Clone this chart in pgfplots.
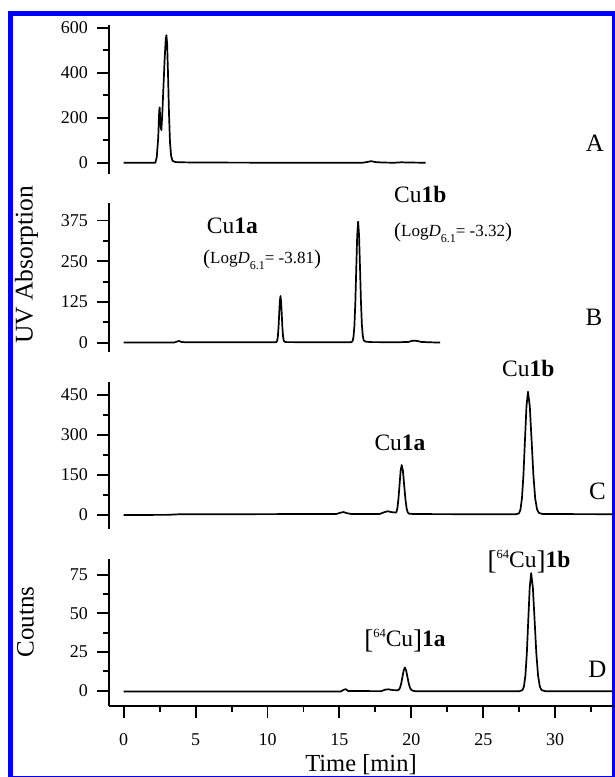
\documentclass[border=0pt]{standalone}
\usepackage{fontspec}
\setmainfont{Liberation Serif}
\usepackage{pgfplots}
\pgfplotsset{compat=1.18}

\newcommand{\ticksize}{\fontsize{18}{18}\selectfont}
\newcommand{\annot}{\fontsize{23.5}{23.5}\selectfont}
\newcommand{\logd}[1]{{\fontsize{17}{17}\selectfont\raisebox{-1pt}{\fontsize{21}{21}\selectfont(}Log\textit{D}\raisebox{-6pt}{\fontsize{12}{12}\selectfont 6.1}= #1\raisebox{-1pt}{\fontsize{21}{21}\selectfont)}}}
\newcommand{\cu}[1]{\raisebox{-2pt}{\fontsize{27}{27}\selectfont[}\raisebox{9pt}{\fontsize{12.5}{12.5}\selectfont 64}Cu\raisebox{-2pt}{\fontsize{27}{27}\selectfont]}\textbf{#1}}

\pgfplotsset{
  panel/.style={
    scale only axis, width=503.4pt,
    xmin=-1, xmax=34,
    axis y line*=left,
    y axis line style={line width=1.9pt, -},
    tick align=outside,
    major tick length=12pt, minor tick length=6pt,
    every tick/.append style={line width=1.9pt, black},
    tick label style={font=\ticksize},
    yticklabel style={xshift=-6pt},
    xticklabel style={yshift=-12.5pt},
    /pgf/number format/assume math mode=true,
    clip=false,
  },
  upper/.style={panel, axis x line=none},
  trace/.style={black, line width=1.7pt, line join=round},
}

\begin{document}
\begin{tikzpicture}[x=1pt, y=1pt]
\useasboundingbox (0,0) rectangle (615,777);
\begin{scope}
\clip (0,0) rectangle (615,777);
\draw[blue, line width=5pt] (10.5,-2) rectangle (614.2,763.5);
\end{scope}

% A
\begin{axis}[upper, at={(109.3pt,603pt)}, anchor=south west, height=149pt,
  ymin=-50, ymax=612, ytick={0,200,400,600}, minor ytick={100,300,500}]
\addplot[trace] table {
0 0
2.20 0
2.30 25
2.40 110
2.47 230
2.50 246
2.54 200
2.58 155
2.62 145
2.68 210
2.76 330
2.84 450
2.92 545
2.97 567
3.02 530
3.08 400
3.15 220
3.22 90
3.30 30
3.40 8
3.60 3
4.0 2
5 1
8 0.5
12 0
16.6 0
16.9 3
17.2 7
17.5 3
18 1
18.8 0
19.3 2
19.8 1
21 0
};
\end{axis}

% B
\begin{axis}[upper, at={(109.3pt,425.3pt)}, anchor=south west, height=148.4pt,
  ymin=-28, ymax=428, ytick={0,125,250,375}, minor ytick={62.5,187.5,312.5}]
\addplot[trace] table {
0 0
3.5 0
3.7 3
3.85 5
4.0 2
4.3 1
8 1
10.55 1
10.63 2
10.675 6
10.72 19
10.765 46
10.81 87
10.855 126
10.9 143
10.945 126
10.99 87
11.035 46
11.08 19
11.125 7
11.17 3
11.3 1.5
13 1
15.8 1
15.91 4
15.975 16
16.04 50
16.105 121
16.17 226
16.235 328
16.3 372
16.365 330
16.43 232
16.495 128
16.56 56
16.625 20
16.69 7
16.8 3
17.2 1.5
19 1
19.8 2
20.1 6
20.4 5
20.7 2
21.2 1
22 0
};
\end{axis}

% C
\begin{axis}[upper, at={(109.3pt,248pt)}, anchor=south west, height=147.3pt,
  ymin=-52.4, ymax=498.7, ytick={0,150,300,450}, minor ytick={75,225,375}]
\addplot[trace] table {
0 0
3 0.5
4 3
8 3
12 3.5
14.8 4
15.1 9
15.3 11
15.5 7
15.8 4
17.8 4
18.1 10
18.35 14
18.6 11
18.9 9
18.955 10
19.03 25
19.105 61
19.18 113
19.255 165
19.33 187
19.415 165
19.5 113
19.585 61
19.67 25
19.755 9
19.84 5
20.2 3.5
24 3
27.3 3
27.48 6
27.585 20
27.69 62
27.795 150
27.9 280
28.005 407
28.11 461
28.235 407
28.36 280
28.485 150
28.61 62
28.735 22
28.86 8
29.1 4
30 3.5
34 3
};
\end{axis}

% D
\begin{axis}[panel, at={(109.3pt,71.3pt)}, anchor=south west, height=146.7pt,
  axis x line*=bottom, x axis line style={line width=1.9pt, -},
  ymin=-9.7, ymax=85.1, ytick={0,25,50,75}, minor ytick={12.5,37.5,62.5},
  xtick={0,5,...,30}, minor xtick={2.5,7.5,...,32.5}]
\addplot[trace] table {
0 -0.5
15.1 -0.5
15.3 0.6
15.45 1
15.6 -0.2
17.9 -0.3
18.2 0.7
18.4 0.9
18.7 0.4
19.04 0.3
19.125 0.6
19.21 1.8
19.295 4.6
19.38 8.8
19.465 13
19.55 15
19.64 13
19.73 8.8
19.82 4.6
19.91 1.8
20.0 0.5
20.1 0
20.3 -0.4
27.5 -0.4
27.73 0.4
27.83 2.8
27.93 9.8
28.03 24.2
28.13 45.6
28.23 66.6
28.33 76
28.45 66.6
28.57 45.6
28.69 24.2
28.81 9.8
28.93 2.8
29.05 0.4
29.3 -0.3
34 -0.4
};
\end{axis}

% panel letters
\node[font=\fontsize{25}{25}\selectfont, inner sep=0] at (595,633.7) {A};
\node[font=\fontsize{25}{25}\selectfont, inner sep=0] at (594,460) {B};
\node[font=\fontsize{25}{25}\selectfont, inner sep=0] at (597.5,285.3) {C};
\node[font=\fontsize{25}{25}\selectfont, inner sep=0] at (597.5,107.5) {D};

% peak annotations
\node[anchor=base west, inner sep=0] at (206.7,543.7) {\annot Cu\textbf{1a}};
\node[anchor=base west, inner sep=0] at (203,513.7) {\logd{-3.81}};
\node[anchor=base west, inner sep=0] at (394,574.3) {\annot Cu\textbf{1b}};
\node[anchor=base west, inner sep=0] at (394,540.3) {\logd{-3.32}};
\node[anchor=base, inner sep=0] at (400,326) {\annot Cu\textbf{1a}};
\node[anchor=base, inner sep=0] at (528.3,400.3) {\annot Cu\textbf{1b}};
\node[anchor=base, inner sep=0] at (529,209.5) {\annot\cu{1b}};
\node[anchor=base, inner sep=0] at (405,130.5) {\annot\cu{1a}};

% axis titles
\node[rotate=90, inner sep=0, font=\fontsize{25.5}{25.5}\selectfont] at (26.5,512) {UV Absorption};
\node[rotate=90, inner sep=0, font=\fontsize{25}{25}\selectfont] at (25.5,155) {Coutns};
\node[inner sep=0, font=\fontsize{24.5}{24.5}\selectfont] at (361,12) {Time [min]};
\end{tikzpicture}
\end{document}
